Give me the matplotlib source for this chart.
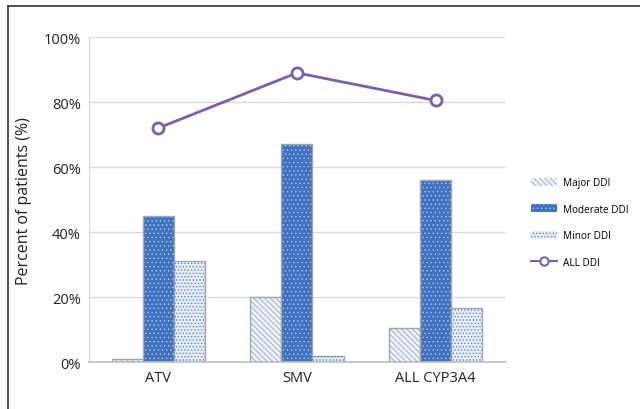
import numpy as np
import matplotlib.pyplot as plt
from matplotlib.lines import Line2D
from matplotlib.patches import Patch
import matplotlib as mpl

# Percent of patients per drug group
groups = ["ATV", "SMV", "ALL CYP3A4"]
major_ddi = [1, 20, 10.5]
moderate_ddi = [45, 67, 56]
minor_ddi = [31, 2, 16.5]
all_ddi = [72, 89, 80.5]
y_ticks = [0, 20, 40, 60, 80, 100]

plt.rcParams["font.family"] = ["Open Sans", "DejaVu Sans"]
mpl.rcParams["hatch.linewidth"] = 0.6

fig = plt.figure(figsize=(6.4, 4.1), dpi=100)
ax = fig.add_axes([0.139, 0.1146, 0.65, 0.7924])

x = np.arange(len(groups))
width = 0.224
edge = "#a6a6a6"

series = [
    (major_ddi, -width, "#eef2f8", "#8ea6c8", "\\\\\\\\\\\\", "Major DDI"),
    (moderate_ddi, 0.0, "#3f72c0", "#9dbbe6", "....", "Moderate DDI"),
    (minor_ddi, width, "#e6edf8", "#5a86cb", ".....", "Minor DDI"),
]

handles = []
for vals, off, face, hcol, hatch, label in series:
    ax.bar(x + off, vals, width, color=face, edgecolor=edge, linewidth=1.0, zorder=2)
    ax.bar(x + off, vals, width, color="none", edgecolor=hcol, hatch=hatch,
           linewidth=0, zorder=3)
    handles.append(Patch(facecolor=face, edgecolor=hcol, hatch=hatch, linewidth=0,
                         label=label))

ax.plot(x, all_ddi, color="#7d5fa8", linewidth=2.0, marker="o", markersize=8,
        markerfacecolor="white", markeredgecolor="#7d5fa8", markeredgewidth=2.0,
        zorder=5)
handles.append(Line2D([], [], color="#7d5fa8", linewidth=1.5, marker="o",
                      markersize=6, markerfacecolor="white", markeredgewidth=1.5,
                      label="ALL DDI"))

ax.set_xlim(-0.5, len(groups) - 0.5)
ax.set_ylim(0, 100)
ax.set_yticks(y_ticks)
ax.set_yticklabels([f"{t}%" for t in y_ticks], fontsize=10.5, color="#222222")
ax.set_xticks(x)
ax.set_xticklabels(groups, fontsize=10.5, color="#222222")
ax.tick_params(axis="both", length=0, pad=6)
ax.yaxis.grid(True, color="#d9d9d9", linewidth=1.0, zorder=0)
ax.set_axisbelow(True)
ax.set_ylabel("Percent of patients (%)", fontsize=11.5, color="#222222", labelpad=8)

for side in ["top", "right"]:
    ax.spines[side].set_visible(False)
ax.spines["left"].set_color("#d9d9d9")
ax.spines["bottom"].set_color("#bfbfbf")
ax.spines["bottom"].set_linewidth(1.2)

fig.legend(handles=handles, loc="center left", bbox_to_anchor=(0.815, 0.455),
           frameon=False, fontsize=7.2, handlelength=2.6, handleheight=0.8,
           labelspacing=1.55, handletextpad=0.6)

# thin outer frame on the left and top
fig.add_artist(Line2D([8 / 640, 8 / 640], [0, 1 - 7 / 410], color="#333333",
                      linewidth=1.2, transform=fig.transFigure))
fig.add_artist(Line2D([8 / 640, 1], [1 - 7 / 410, 1 - 7 / 410], color="#333333",
                      linewidth=1.2, transform=fig.transFigure))

fig.savefig("out.png", dpi=100)
